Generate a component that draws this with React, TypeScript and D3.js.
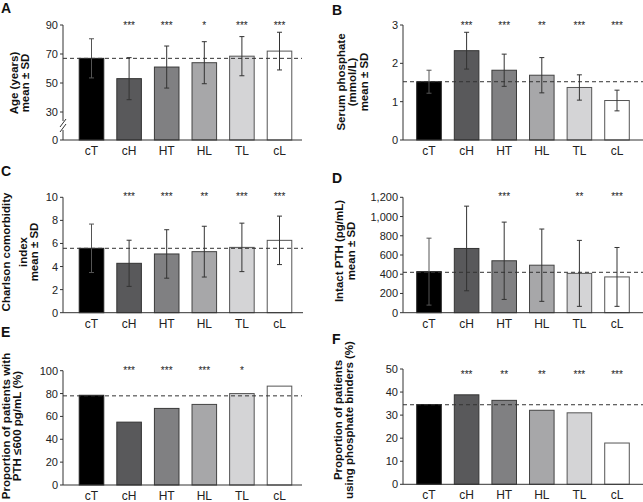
import React from "react";
import * as d3 from "d3";

const categories = ["cT", "cH", "HT", "HL", "TL", "cL"];

const ageMean = [67, 53, 61, 64, 68.5, 72];
const ageSD = [13.5, 14.5, 14.5, 14.5, 13.5, 13];
const ageRef = 67;
const ageStars = ["", "***", "***", "*", "***", "***"];
const ageTicks = [0, 30, 50, 70, 90];

const phosMean = [1.52, 2.33, 1.82, 1.69, 1.37, 1.03];
const phosSD = [0.3, 0.48, 0.42, 0.46, 0.33, 0.27];
const phosRef = 1.52;
const phosStars = ["", "***", "***", "**", "***", "***"];
const phosTicks = [0, 1, 2, 3];

const cciMean = [5.58, 4.28, 5.09, 5.29, 5.66, 6.27];
const cciSD = [2.1, 2.0, 2.1, 2.2, 2.1, 2.1];
const cciRef = 5.58;
const cciStars = ["", "***", "***", "**", "***", "***"];
const cciTicks = [0, 2, 4, 6, 8, 10];

const pthMean = [427, 668, 540, 494, 409, 372];
const pthSD = [348, 440, 402, 376, 343, 306];
const pthRef = 420;
const pthStars = ["", "", "***", "", "**", "***"];
const pthTicks = [0, 200, 400, 600, 800, 1000, 1200];

const pth600Pct = [78.5, 55, 67, 70.5, 80, 86.5];
const pth600Ref = 78;
const pth600Stars = ["", "***", "***", "***", "*", ""];
const pth600Ticks = [0, 20, 40, 60, 80, 100];

const binderPct = [34.6, 38.8, 36.4, 32.1, 31, 17.9];
const binderRef = 34.5;
const binderStars = ["", "***", "**", "**", "***", "***"];
const binderTicks = [0, 10, 20, 30, 40, 50];

const fills = ["#000000", "#59595b", "#808082", "#a7a7a9", "#d4d4d6", "#ffffff"];
const strokes = ["#222", "#333", "#3a3a3a", "#444", "#555", "#555"];

const FONT = "Liberation Sans, Arial, Helvetica, sans-serif";
const AX = "#333";

type PanelProps = {
  letter: string;
  letterX: number;
  letterY: number;
  labelLines: string[];
  labelX: number[];
  labelY: number;
  axisX: number;
  bandX0: number;
  axisEnd: number;
  top: number;
  bottom: number;
  domain: number[];
  values: number[];
  sds?: number[];
  refValue: number;
  stars: string[];
  starY: number;
  ticks: number[];
  tickFmt?: (v: number) => string;
  broken?: boolean;
};

function Panel(p: PanelProps) {
  const x = d3
    .scaleBand<string>()
    .domain(categories)
    .range([p.bandX0, p.bandX0 + 6 * 37.6])
    .paddingInner(0.32)
    .paddingOuter(0.16);

  const y = p.broken
    ? d3.scaleLinear().domain([0, 30, 90]).range([p.bottom, 112, p.top])
    : d3.scaleLinear().domain(p.domain).range([p.bottom, p.top]);

  const fmt = p.tickFmt || ((v: number) => String(v));
  const bw = x.bandwidth();

  return (
    <g>
      <text x={p.letterX} y={p.letterY} fontFamily={FONT} fontWeight="bold" fontSize={14} fill="#111">
        {p.letter}
      </text>
      {p.labelLines.map((l, i) => (
        <text
          key={i}
          transform={`translate(${p.labelX[i]},${p.labelY}) rotate(-90)`}
          textAnchor="middle"
          fontFamily={FONT}
          fontWeight="bold"
          fontSize={11.5}
          fill="#111"
        >
          {l}
        </text>
      ))}
      {/* bars */}
      {categories.map((c, i) => {
        const yv = y(p.values[i]);
        return (
          <rect
            key={c}
            x={(x(c) as number) + 0.5}
            y={yv}
            width={bw - 1}
            height={p.bottom - yv}
            fill={fills[i]}
            stroke={strokes[i]}
            strokeWidth={1}
          />
        );
      })}
      {/* error bars */}
      {p.sds &&
        categories.map((c, i) => {
          const cx = (x(c) as number) + bw / 2;
          const hi = y(p.values[i] + p.sds![i]);
          const lo = y(p.values[i] - p.sds![i]);
          const col = i === 0 ? "#555" : "#333";
          return (
            <g key={c} stroke={col} strokeWidth={1}>
              <line x1={cx} x2={cx} y1={hi} y2={lo} />
              <line x1={cx - 2.5} x2={cx + 2.5} y1={hi} y2={hi} />
              <line x1={cx - 2.5} x2={cx + 2.5} y1={lo} y2={lo} />
            </g>
          );
        })}
      {/* reference dashed line */}
      <line
        x1={p.axisX}
        x2={p.axisEnd}
        y1={y(p.refValue)}
        y2={y(p.refValue)}
        stroke={AX}
        strokeWidth={1}
        strokeDasharray="4,3"
      />
      {/* stars */}
      {categories.map((c, i) =>
        p.stars[i] ? (
          <text
            key={c}
            x={(x(c) as number) + bw / 2}
            y={p.starY + 5.5}
            textAnchor="middle"
            fontFamily={FONT}
            fontSize={10}
            fill="#222"
          >
            {p.stars[i]}
          </text>
        ) : null
      )}
      {/* y axis */}
      {p.broken ? (
        <g stroke={AX} strokeWidth={1}>
          <line x1={p.axisX} x2={p.axisX} y1={p.top} y2={121} />
          <line x1={p.axisX} x2={p.axisX} y1={130} y2={p.bottom} />
          <line x1={p.axisX - 3} x2={p.axisX + 3} y1={127} y2={119} />
          <line x1={p.axisX - 3} x2={p.axisX + 3} y1={132} y2={124} />
        </g>
      ) : (
        <line x1={p.axisX} x2={p.axisX} y1={p.top} y2={p.bottom} stroke={AX} strokeWidth={1} />
      )}
      {p.ticks.map((t) => (
        <g key={t}>
          <line x1={p.axisX - 3} x2={p.axisX} y1={y(t)} y2={y(t)} stroke={AX} strokeWidth={1} />
          <text
            x={p.axisX - 5}
            y={y(t) + 4}
            textAnchor="end"
            fontFamily={FONT}
            fontSize={11}
            fill="#222"
          >
            {fmt(t)}
          </text>
        </g>
      ))}
      {/* x axis */}
      <line x1={p.axisX} x2={p.axisEnd} y1={p.bottom} y2={p.bottom} stroke={AX} strokeWidth={1} />
      {categories.map((c) => (
        <text
          key={c}
          x={(x(c) as number) + bw / 2}
          y={p.bottom + 15}
          textAnchor="middle"
          fontFamily={FONT}
          fontSize={12}
          fill="#222"
        >
          {c}
        </text>
      ))}
    </g>
  );
}

export default function App() {
  const commaFmt = d3.format(",");
  return (
    <svg
      width={643}
      height={502}
      style={{ position: "absolute", left: 0, top: 0, background: "#fff" }}
    >
      <rect width={643} height={502} fill="#fff" />
      <Panel
        letter="A"
        letterX={1}
        letterY={13}
        labelLines={["Age (years)", "mean ± SD"]}
        labelX={[18, 29]}
        labelY={83}
        axisX={63}
        bandX0={72.7}
        axisEnd={302}
        top={25}
        bottom={140}
        domain={[0, 90]}
        values={ageMean}
        sds={ageSD}
        refValue={ageRef}
        stars={ageStars}
        starY={23.5}
        ticks={ageTicks}
        broken
      />
      <Panel
        letter="B"
        letterX={332}
        letterY={15}
        labelLines={["Serum phosphate", "(mmol/L)", "mean ± SD"]}
        labelX={[344.5, 356, 367.5]}
        labelY={82}
        axisX={403}
        bandX0={410.2}
        axisEnd={643}
        top={25}
        bottom={140}
        domain={[0, 3]}
        values={phosMean}
        sds={phosSD}
        refValue={phosRef}
        stars={phosStars}
        starY={23.5}
        ticks={phosTicks}
      />
      <Panel
        letter="C"
        letterX={1}
        letterY={176}
        labelLines={["Charlson comorbidity", "index", "mean ± SD"]}
        labelX={[10, 26.5, 37.5]}
        labelY={252}
        axisX={63}
        bandX0={72.7}
        axisEnd={303}
        top={197.3}
        bottom={312.7}
        domain={[0, 10]}
        values={cciMean}
        sds={cciSD}
        refValue={cciRef}
        stars={cciStars}
        starY={194}
        ticks={cciTicks}
      />
      <Panel
        letter="D"
        letterX={332}
        letterY={183}
        labelLines={["Intact PTH (pg/mL)", "mean ± SD"]}
        labelX={[343, 355]}
        labelY={251}
        axisX={403}
        bandX0={410.2}
        axisEnd={643}
        top={197.3}
        bottom={312.7}
        domain={[0, 1200]}
        values={pthMean}
        sds={pthSD}
        refValue={pthRef}
        stars={pthStars}
        starY={194}
        ticks={pthTicks}
        tickFmt={(v) => commaFmt(v)}
      />
      <Panel
        letter="E"
        letterX={1}
        letterY={337}
        labelLines={["Proportion of patients with", "PTH ≤600 pg/mL (%)"]}
        labelX={[9.5, 20.5]}
        labelY={426}
        axisX={63}
        bandX0={72.7}
        axisEnd={302}
        top={370.7}
        bottom={485}
        domain={[0, 100]}
        values={pth600Pct}
        refValue={pth600Ref}
        stars={pth600Stars}
        starY={368}
        ticks={pth600Ticks}
      />
      <Panel
        letter="F"
        letterX={332}
        letterY={344}
        labelLines={["Proportion of patients", "using phosphate binders (%)"]}
        labelX={[341.5, 352.5]}
        labelY={420}
        axisX={403}
        bandX0={410.2}
        axisEnd={643}
        top={369}
        bottom={484.3}
        domain={[0, 50]}
        values={binderPct}
        refValue={binderRef}
        stars={binderStars}
        starY={372.7}
        ticks={binderTicks}
      />
    </svg>
  );
}
